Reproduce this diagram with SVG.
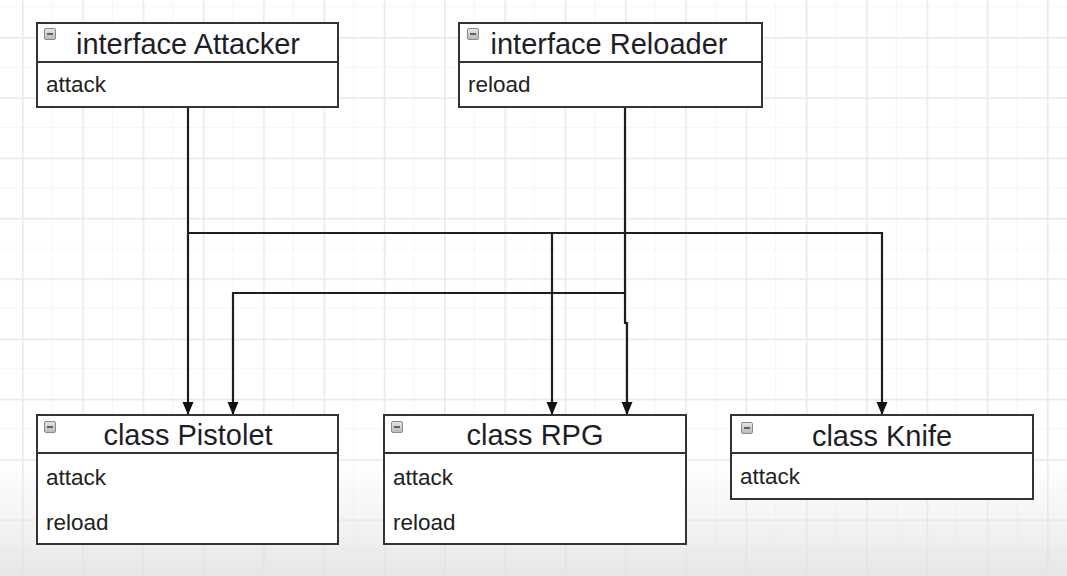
<svg xmlns="http://www.w3.org/2000/svg" width="1067" height="576" viewBox="0 0 1067 576">
<defs>
<style>
.box{fill:#ffffff;stroke:#333333;stroke-width:2}
.div{stroke:#333333;stroke-width:2}
.title{font-family:"Liberation Sans",Arial,sans-serif;font-size:29px;fill:#1e1e28;text-anchor:middle}
.mem{font-family:"Liberation Sans",Arial,sans-serif;font-size:22.5px;fill:#222222}
.ico{fill:url(#icog);stroke:#8a8a8a;stroke-width:1}
.icm{stroke:#444444;stroke-width:1.6}
.con{fill:none;stroke:#1e1e1e;stroke-width:2.2}
.major{stroke:#e8e8e8;stroke-width:1.5}
.minor{stroke:#f5f5f5;stroke-width:1}
</style>
<linearGradient id="icog" x1="0" y1="0" x2="0" y2="1">
<stop offset="0" stop-color="#e6e6e6"/>
<stop offset="1" stop-color="#b9b9b9"/>
</linearGradient>
<linearGradient id="fade" x1="0" y1="0" x2="0" y2="1">
<stop offset="0" stop-color="#e9e9e9" stop-opacity="0"/>
<stop offset="1" stop-color="#e2e2e2" stop-opacity="0.85"/>
</linearGradient>
<marker id="arr" markerWidth="16" markerHeight="16" refX="14" refY="8" orient="auto" markerUnits="userSpaceOnUse">
<path d="M1,2.5 L14,8 L1,13.5 Z" fill="#111111"/>
</marker>
<pattern id="grid" x="22" y="37" width="60.3" height="60.3" patternUnits="userSpaceOnUse">
<line class="minor" x1="30.15" y1="0" x2="30.15" y2="60.3"/>
<line class="minor" x1="0" y1="30.15" x2="60.3" y2="30.15"/>
<line class="major" x1="0.75" y1="0" x2="0.75" y2="60.3"/>
<line class="major" x1="0" y1="0.75" x2="60.3" y2="0.75"/>
</pattern>
</defs>
<rect x="0" y="0" width="1067" height="576" fill="#ffffff"/>
<rect x="0" y="0" width="1067" height="576" fill="url(#grid)"/>
<rect x="0" y="460" width="1067" height="116" fill="url(#fade)"/>

<g id="connectors">
<path class="con" d="M188,107 V415" marker-end="url(#arr)"/>
<path class="con" d="M188,233 H552 V415" marker-end="url(#arr)"/>
<path class="con" d="M552,233 H882 V415" marker-end="url(#arr)"/>
<path class="con" d="M625,107 V293 H233 V415" marker-end="url(#arr)"/>
<path class="con" d="M625,293 V323 H627 V415" marker-end="url(#arr)"/>
</g>

<g id="attacker">
<rect class="box" x="37" y="23" width="301" height="84"/>
<line class="div" x1="37" y1="62" x2="338" y2="62"/>
<rect class="ico" x="44.5" y="28.5" width="11" height="11" rx="1.5"/>
<line class="icm" x1="47" y1="34" x2="53" y2="34"/>
<text class="title" x="188" y="54">interface Attacker</text>
<text class="mem" x="46" y="92">attack</text>
</g>

<g id="reloader">
<rect class="box" x="459" y="23" width="303" height="84"/>
<line class="div" x1="459" y1="62" x2="762" y2="62"/>
<rect class="ico" x="467.5" y="28.5" width="11" height="11" rx="1.5"/>
<line class="icm" x1="470" y1="34" x2="476" y2="34"/>
<text class="title" x="609" y="54">interface Reloader</text>
<text class="mem" x="468" y="92">reload</text>
</g>

<g id="pistolet">
<rect class="box" x="37" y="415" width="301" height="129"/>
<line class="div" x1="37" y1="453" x2="338" y2="453"/>
<rect class="ico" x="44.5" y="421.5" width="11" height="11" rx="1.5"/>
<line class="icm" x1="47" y1="427" x2="53" y2="427"/>
<text class="title" x="188" y="445">class Pistolet</text>
<text class="mem" x="46" y="485">attack</text>
<text class="mem" x="46" y="530">reload</text>
</g>

<g id="rpg">
<rect class="box" x="384" y="415" width="302" height="129"/>
<line class="div" x1="384" y1="453" x2="686" y2="453"/>
<rect class="ico" x="391.5" y="421.5" width="11" height="11" rx="1.5"/>
<line class="icm" x1="394" y1="427" x2="400" y2="427"/>
<text class="title" x="535" y="445">class RPG</text>
<text class="mem" x="393" y="485">attack</text>
<text class="mem" x="393" y="530">reload</text>
</g>

<g id="knife">
<rect class="box" x="731" y="415" width="302" height="84"/>
<line class="div" x1="731" y1="453" x2="1033" y2="453"/>
<rect class="ico" x="741.5" y="422.5" width="11" height="11" rx="1.5"/>
<line class="icm" x1="744" y1="428" x2="750" y2="428"/>
<text class="title" x="882" y="446">class Knife</text>
<text class="mem" x="740" y="484">attack</text>
</g>
</svg>
